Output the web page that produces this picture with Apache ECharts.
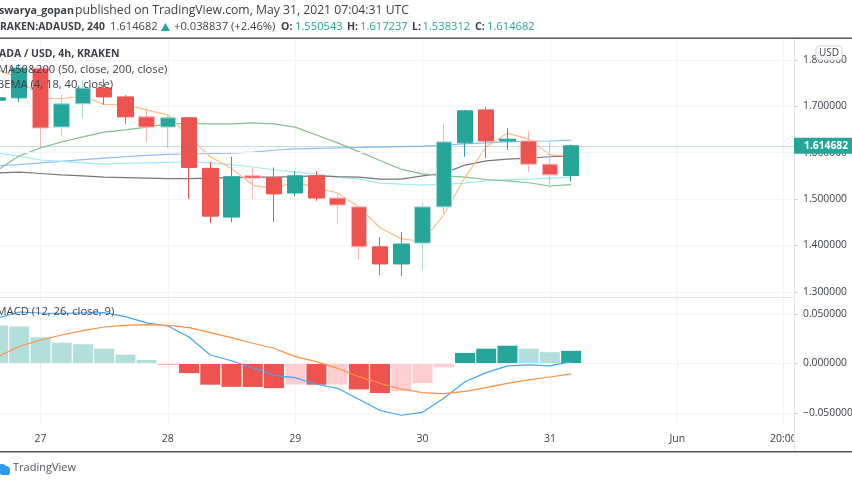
<!DOCTYPE html>
<html>
<head>
<meta charset="utf-8">
<style>
  html, body { margin: 0; padding: 0; background: #fff; }
  #main { width: 852px; height: 485px; }
</style>
<script src="https://cdn.jsdelivr.net/npm/echarts@6/dist/echarts.min.js"></script>
</head>
<body>
<div id="main"></div>
<script>
// 4h bars, May 26 16:00 to Jun 1 20:00
var categories = [
  '26 16:00', '26 20:00',
  '27', '27 04:00', '27 08:00', '27 12:00', '27 16:00', '27 20:00',
  '28', '28 04:00', '28 08:00', '28 12:00', '28 16:00', '28 20:00',
  '29', '29 04:00', '29 08:00', '29 12:00', '29 16:00', '29 20:00',
  '30', '30 04:00', '30 08:00', '30 12:00', '30 16:00', '30 20:00',
  '31', '31 04:00', '31 08:00', '31 12:00', '31 16:00', '31 20:00',
  'Jun', 'Jun 04:00', 'Jun 08:00', 'Jun 12:00', 'Jun 16:00', '20:00'
];
var timeLabels = ['27', '28', '29', '30', '31', 'Jun', '20:00'];
var priceTicks = [1.3, 1.4, 1.5, 1.6, 1.7, 1.8];
var macdTicks = [-0.05, 0, 0.05];

var opens = [1.713, 1.718, 1.782, 1.655, 1.705, 1.739, 1.720, 1.677, 1.655, 1.675, 1.566, 1.461, 1.550, 1.546, 1.513, 1.550, 1.502, 1.483, 1.397, 1.360, 1.405, 1.483, 1.621, 1.692, 1.625, 1.625, 1.575, 1.550543];
var closes = [1.718, 1.782, 1.653, 1.705, 1.739, 1.720, 1.677, 1.655, 1.675, 1.568, 1.463, 1.548, 1.545, 1.511, 1.550, 1.502, 1.487, 1.397, 1.360, 1.403, 1.483, 1.623, 1.690, 1.625, 1.629, 1.575, 1.552, 1.614682];
var lows = [1.709, 1.709, 1.610, 1.636, 1.675, 1.703, 1.662, 1.623, 1.610, 1.500, 1.448, 1.450, 1.500, 1.450, 1.506, 1.496, 1.446, 1.369, 1.336, 1.334, 1.349, 1.470, 1.591, 1.588, 1.606, 1.558, 1.524, 1.538312];
var highs = [1.722, 1.791, 1.787, 1.724, 1.756, 1.759, 1.724, 1.696, 1.681, 1.675, 1.580, 1.591, 1.568, 1.568, 1.560, 1.560, 1.513, 1.483, 1.418, 1.429, 1.491, 1.662, 1.692, 1.698, 1.653, 1.647, 1.623, 1.617237];
var lastPrice = 1.614682;

var ema4 = [1.778, 1.761, 1.718, 1.716, 1.722, 1.704, 1.703, 1.692, 1.681, 1.634, 1.591, 1.566, 1.530, 1.522, 1.537, 1.524, 1.513, 1.483, 1.438, 1.414, 1.409, 1.466, 1.547, 1.612, 1.642, 1.629, 1.595, 1.593];
var ema18 = [1.563, 1.593, 1.610, 1.623, 1.634, 1.644, 1.649, 1.655, 1.662, 1.663, 1.662, 1.662, 1.664, 1.662, 1.655, 1.638, 1.621, 1.602, 1.583, 1.564, 1.554, 1.550, 1.547, 1.542, 1.539, 1.535, 1.528, 1.531];
var ema40 = [1.599, 1.592, 1.584, 1.581, 1.578, 1.575, 1.577, 1.578, 1.579, 1.580, 1.578, 1.574, 1.569, 1.563, 1.558, 1.554, 1.547, 1.543, 1.534, 1.532, 1.530, 1.532, 1.534, 1.539, 1.541, 1.543, 1.545, 1.547];
var ma50 = [1.556, 1.558, 1.555, 1.552, 1.550, 1.547, 1.546, 1.545, 1.544, 1.544, 1.545, 1.546, 1.547, 1.547, 1.548, 1.550, 1.548, 1.547, 1.543, 1.543, 1.550, 1.556, 1.573, 1.582, 1.586, 1.588, 1.591, 1.593];
var ma200 = [1.572, 1.574, 1.578, 1.581, 1.585, 1.588, 1.591, 1.594, 1.596, 1.597, 1.598, 1.599, 1.601, 1.605, 1.608, 1.609, 1.610, 1.611, 1.612, 1.613, 1.614, 1.616, 1.619, 1.621, 1.623, 1.624, 1.625, 1.627];

var macdLine = [0.0461, 0.0522, 0.0512, 0.0507, 0.0512, 0.0515, 0.0475, 0.0411, 0.0380, 0.0269, 0.0086, 0.0028, -0.0043, -0.0120, -0.0144, -0.0211, -0.0252, -0.0363, -0.0477, -0.0525, -0.0495, -0.0353, -0.0185, -0.0093, -0.0025, -0.0015, -0.0025, 0.0018];
var signalLine = [0.0071, 0.0172, 0.0238, 0.0289, 0.0333, 0.0370, 0.0387, 0.0394, 0.0387, 0.0363, 0.0312, 0.0262, 0.0205, 0.0154, 0.0069, 0.0018, -0.0049, -0.0134, -0.0201, -0.0259, -0.0296, -0.0306, -0.0282, -0.0245, -0.0201, -0.0167, -0.0137, -0.0106];
var histogram = [0.0385, 0.0375, 0.0265, 0.021, 0.0195, 0.015, 0.009, 0.0035, -0.001, -0.0098, -0.0215, -0.0237, -0.0238, -0.025, -0.0213, -0.0215, -0.0214, -0.0263, -0.03, -0.028, -0.02, -0.004, 0.0107, 0.015, 0.018, 0.015, 0.0115, 0.0128];

// candles whose wick looks washed out in the picture
var paleCandles = [2, 3, 4, 7, 8, 12, 16, 17, 20, 21, 25, 26];

var UP = '#26a69a', DOWN = '#ef5350';
var FONT = '"Open Sans", sans-serif';
var GRID_LINE = '#f4f4f5', PANE_LINE = '#e6e6e8', TEXT = '#3c3f4a';

var candleData = opens.map(function (o, i) {
  var item = { value: [o, closes[i], lows[i], highs[i]] };
  if (paleCandles.indexOf(i) >= 0) {
    var pale = closes[i] > o ? '#a5d9d4' : '#f9b4b3';
    item.itemStyle = { borderColor: pale, borderColor0: pale };
  }
  return item;
});

// dark when the histogram moves away from zero, light when it comes back
var histData = histogram.map(function (v, i) {
  var prev = i > 0 ? histogram[i - 1] : v;
  var color;
  if (v >= 0) color = v > prev ? UP : '#b2dfdb';
  else color = v < prev ? DOWN : '#ffcdd2';
  return { value: v, itemStyle: { color: color } };
});

function lineSeries(name, data, color, xy, z) {
  return {
    name: name, type: 'line', data: data,
    xAxisIndex: xy, yAxisIndex: xy, z: z,
    showSymbol: false, silent: true, animation: false,
    lineStyle: { color: color, width: 1.2 }
  };
}

function xAxisFor(grid, showLabels) {
  return {
    type: 'category', gridIndex: grid, data: categories, z: 1,
    axisLine: { show: true, lineStyle: { color: PANE_LINE } },
    axisTick: {
      show: showLabels, alignWithLabel: true, length: 4,
      lineStyle: { color: PANE_LINE },
      interval: function (i, name) { return timeLabels.indexOf(name) >= 0; }
    },
    axisLabel: {
      show: showLabels, color: TEXT, fontFamily: FONT, fontSize: 10.5, margin: 8, hideOverlap: false,
      interval: function (i, name) { return timeLabels.indexOf(name) >= 0; }
    },
    splitLine: {
      show: true, alignWithLabel: true, lineStyle: { color: GRID_LINE },
      interval: function (i, name) { return timeLabels.indexOf(name) >= 0; }
    }
  };
}

function yAxisFor(grid, min, max, ticks) {
  return {
    type: 'value', gridIndex: grid, position: 'right', min: min, max: max, z: 3,
    axisLine: { show: true, lineStyle: { color: PANE_LINE } },
    axisTick: { show: true, length: 4, customValues: ticks, lineStyle: { color: '#cfd0d4' } },
    axisLabel: {
      color: TEXT, fontFamily: FONT, fontSize: 10.3, margin: 9, customValues: ticks,
      showMinLabel: true, showMaxLabel: true,
      formatter: function (v) { return (v < 0 ? '\u2212' : '') + Math.abs(v).toFixed(6); }
    },
    splitLine: { show: true, lineStyle: { color: GRID_LINE } }
  };
}

function caption(x, y, text, size, bold, color) {
  return {
    type: 'text', x: x, y: y, z: 6,
    style: {
      text: text, fill: color || TEXT, font: (bold ? 'bold ' : '') + size + 'px ' + FONT,
      textVerticalAlign: 'middle'
    }
  };
}

var option = {
  animation: false,
  backgroundColor: '#fff',
  grid: [
    { left: -12.6, width: 806.6, top: 39, height: 258, outerBoundsMode: 'none' },
    { left: -12.6, width: 806.6, top: 297, height: 129, outerBoundsMode: 'none' }
  ],
  xAxis: [xAxisFor(0, false), xAxisFor(1, true)],
  yAxis: [
    yAxisFor(0, 1.2888, 1.8448, priceTicks),
    yAxisFor(1, -0.0634, 0.0674, macdTicks)
  ],
  series: [
    lineSeries('MA200', ma200, '#90bdf0', 0, 2),
    lineSeries('EMA40', ema40, '#9cecf6', 0, 2),
    lineSeries('MA50', ma50, '#77777c', 0, 2),
    lineSeries('EMA18', ema18, '#86c08c', 0, 2),
    lineSeries('EMA4', ema4, '#ffbd82', 0, 2),
    {
      name: 'ADA / USD', type: 'candlestick', data: candleData,
      xAxisIndex: 0, yAxisIndex: 0, z: 4, barWidth: 16,
      itemStyle: { color: UP, color0: DOWN, borderColor: UP, borderColor0: DOWN, borderWidth: 1 },
      markLine: {
        silent: true, symbol: 'none', animation: false, precision: 6,
        data: [{ yAxis: lastPrice }],
        lineStyle: { color: 'rgba(38,166,154,0.6)', type: 'dotted', width: 1 },
        label: {
          position: 'end', distance: 0, color: '#fff', backgroundColor: UP,
          fontFamily: FONT, fontSize: 10.3, fontWeight: 'bold', padding: [3, 8, 3, 10],
          formatter: function () { return lastPrice.toFixed(6); }
        }
      }
    },
    {
      name: 'Histogram', type: 'bar', data: histData,
      xAxisIndex: 1, yAxisIndex: 1, z: 2, barWidth: 20
    },
    lineSeries('MACD', macdLine, '#42a5f5', 1, 3),
    lineSeries('Signal', signalLine, '#ff8f3f', 1, 3)
  ],
  graphic: [
    // hides the end of the cut off time label, as the price scale does in the picture
    { type: 'rect', z: 2, shape: { x: 794.5, y: 427, width: 58, height: 24 }, style: { fill: '#fff' } },
    { type: 'line', z: 2, shape: { x1: 794.5, y1: 426, x2: 794.5, y2: 451 }, style: { stroke: PANE_LINE } },
    { type: 'rect', z: 6, shape: { x: 0, y: 37.6, width: 852, height: 1.5 }, style: { fill: '#555' } },
    { type: 'rect', z: 6, shape: { x: 0, y: 451, width: 852, height: 1.5 }, style: { fill: '#555' } },

    caption(-1, 11, 'swarya_gopan', 10.6, true),
    caption(75, 11, 'published on TradingView.com, May 31, 2021 07:04:31 UTC', 12.2),
    caption(0, 27, 'RAKEN:ADAUSD, 240', 10.4, true),
    caption(110, 27, '1.614682', 11.2),
    { type: 'polygon', z: 6, shape: { points: [[161, 31], [170, 31], [165.5, 23]] }, style: { fill: UP } },
    caption(174, 27, '+0.038837 (+2.46%)', 11.2),
    caption(281, 27, 'O:', 10.6, true), caption(295, 27, '1.550543', 11.2, false, UP),
    caption(347, 27, 'H:', 10.6, true), caption(360, 27, '1.617237', 11.2, false, UP),
    caption(412, 27, 'L:', 10.6, true), caption(422.5, 27, '1.538312', 11.2, false, UP),
    caption(475, 27, 'C:', 10.6, true), caption(487, 27, '1.614682', 11.2, false, UP),

    caption(-1, 54, 'ADA / USD, 4h, KRAKEN', 10.5, true),
    caption(-2, 70, 'MA50&200 (50, close, 200, close)', 11.2),
    caption(-3, 85, 'BEMA (4, 18, 40, close)', 11.2),
    caption(-3.5, 312, 'MACD (12, 26, close, 9)', 11.2),

    // price scale currency tag
    {
      type: 'rect', z: 6, shape: { x: 816, y: 46, width: 26, height: 14, r: 3 },
      style: { fill: '#fff', stroke: '#d6d7db' }
    },
    {
      type: 'text', z: 7, x: 829, y: 53,
      style: { text: 'USD', fill: TEXT, font: '10px ' + FONT, textAlign: 'center', textVerticalAlign: 'middle' }
    },

    // TradingView mark
    { type: 'circle', z: 6, shape: { cx: 2, cy: 468, r: 4 }, style: { fill: '#2e9bea' } },
    { type: 'circle', z: 6, shape: { cx: 6, cy: 470, r: 4 }, style: { fill: '#2e9bea' } },
    { type: 'rect', z: 6, shape: { x: 0, y: 470, width: 10, height: 5, r: 2 }, style: { fill: '#2e9bea' } },
    caption(13, 468, 'TradingView', 11, false, '#50535e')
  ]
};

var myChart = echarts.init(document.getElementById('main'), null, { renderer: 'canvas' });
myChart.setOption(option);
</script>
</body>
</html>
